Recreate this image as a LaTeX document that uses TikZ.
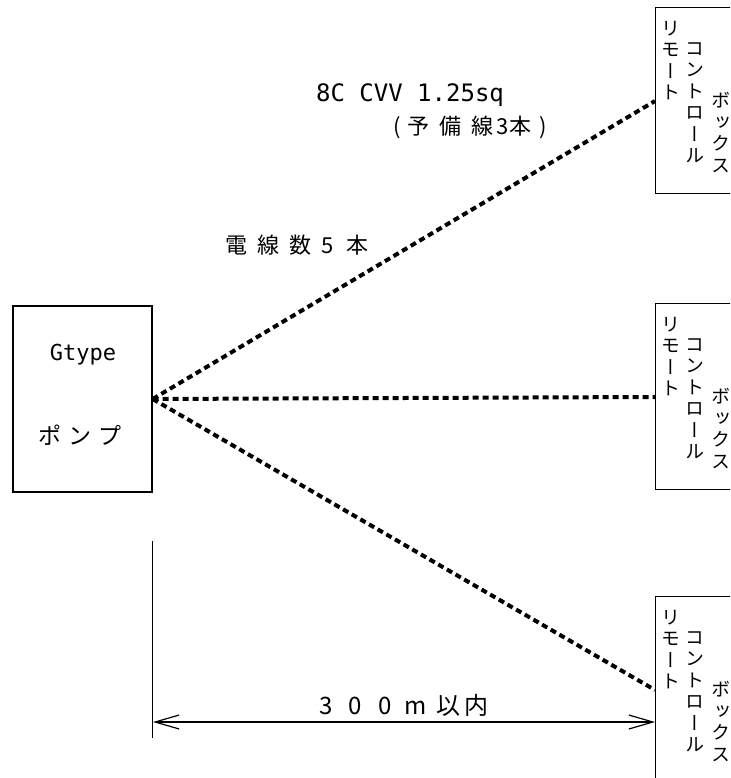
\documentclass[tikz,border=0pt]{standalone}
\usepackage{fontspec}
\newfontfamily\jpfont{Noto Sans CJK JP}
\newfontfamily\jpvert{Noto Sans CJK JP}[RawFeature=+vert]
\newfontfamily\halffont{DejaVu Sans Mono}
\usetikzlibrary{arrows.meta,positioning}
\begin{document}
\begin{tikzpicture}[x=1pt, y=-1pt,
    box/.style={draw, line width=1.4pt, inner sep=0},
    cable/.style={line width=4pt, dash pattern=on 6pt off 4pt},
    vcol/.style={font=\jpvert\fontsize{19}{21.5}\selectfont, align=center, inner sep=0, anchor=north},
    barb/.style={line width=1.2pt, {Straight Barb[length=24pt,width=14pt]}-{Straight Barb[length=24pt,width=14pt]}}]
  \useasboundingbox (0,0) rectangle (730,778);
  \clip (0,0) rectangle (730,778);
  % pump
  \node [box, minimum width=139pt, minimum height=186pt] (pump) at (82.5,399) {};
  \node [font=\halffont\fontsize{22}{22}\selectfont] (gtype) at (83,355) {Gtype};
  \node [font=\jpfont\fontsize{23}{23}\selectfont] (pumplabel) at (80,435) {ポ\hspace{7pt}ン\hspace{7pt}プ};
  % remote control boxes
  \foreach \t/\n in {7/rc1, 303/rc2, 596/rc3} {
    \node [box, anchor=north west, minimum width=110pt, minimum height=186pt] (\n) at (655,\t) {};
    \node [vcol] at (671,\t+14) {リ\\モ\\ー\\ト};
    \node [vcol] at (695,\t+35) {コ\\ン\\ト\\ロ\\ー\\ル};
    \node [vcol] at (721,\t+85) {ボ\\ッ\\ク\\ス};
    \draw [cable] (pump.east) -- ([yshift=-94pt]\n.north west);
  }
  % cable labels
  \node [font=\halffont\fontsize{24}{24}\selectfont] (spec) at (410,95) {8C CVV 1.25sq};
  \node [font=\jpfont\fontsize{22}{22}\selectfont] (spare) at (470,127) {(\hspace{7pt}予\hspace{10pt}備\hspace{10pt}線\hspace{3pt}3本\hspace{8pt})};
  \node [font=\jpfont\fontsize{22}{22}\selectfont] (count) at (297,245) {電\hspace{10pt}線\hspace{10pt}数\hspace{10pt}5\hspace{12pt}本};
  % distance
  \draw [line width=1.3pt] ([yshift=-48pt]pump.south east) -- ++(0,197) coordinate (dimend);
  \coordinate (dimL) at (153,722);
  \draw [barb] (dimL) -- (rc3.west |- dimL)
    node [midway, above=2pt, font=\jpfont\fontsize{24}{24}\selectfont] {3\hspace{16pt}0\hspace{16pt}0\hspace{13pt}m\hspace{10pt}以\hspace{4pt}内};
\end{tikzpicture}
\end{document}
